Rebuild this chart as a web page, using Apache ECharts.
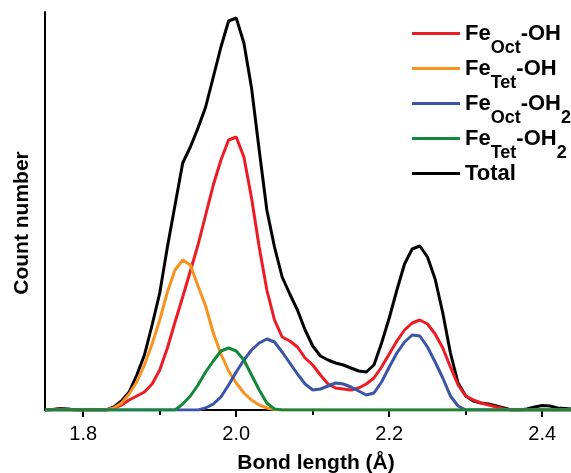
<!DOCTYPE html>
<html>
<head>
<meta charset="utf-8">
<script src="https://cdn.jsdelivr.net/npm/echarts@6/dist/echarts.min.js"></script>
<style>
html,body{margin:0;padding:0;background:#fff;}
#chart{width:571px;height:473px;}
</style>
</head>
<body>
<div id="chart"></div>
<script>
// Bond length grid (Å)
const bondLength = [
  1.75,1.76,1.77,1.78,1.79,1.80,1.81,1.82,1.83,1.84,1.85,1.86,1.87,1.88,1.89,
  1.90,1.91,1.92,1.93,1.94,1.95,1.96,1.97,1.98,1.99,
  2.00,2.01,2.02,2.03,2.04,2.05,2.06,2.07,2.08,2.09,
  2.10,2.11,2.12,2.13,2.14,2.15,2.16,2.17,2.18,2.19,
  2.20,2.21,2.22,2.23,2.24,2.25,2.26,2.27,2.28,2.29,
  2.30,2.31,2.32,2.33,2.34,2.35,2.36,2.37,2.38,2.39,
  2.40,2.41,2.42,2.43,2.44,2.45,2.46,2.47,2.48,2.49,2.50
];

const feOctOH = [
  0,0.3,1,0.5,0,0,0,0,0,2,5,10,14,18,26,
  40,62,88,113,139,165,195,225,250,270,
  273,253,212,163,120,90,73,69,63,52,
  45,35,26,22,21,20,22,26,32,43,
  56,69,80,87,90,86,76,62,43,25,
  14,10,7,5,3,1,0,0,0,0,
  0,0,0,0,0,0,0,0,0,0,0
];

const feTetOH = [
  0,0,0,0,0,0,0,0,0,2,7,16,28,45,66,
  90,118,140,150,145,124,104,77,56,39,
  27,17,10,5,2,0.5,0,0,0,0,
  0,0,0,0,0,0,0,0,0,0,
  0,0,0,0,0,0,0,0,0,0,
  0,0,0,0,0,0,0,0,0,0,
  0,0,0,0,0,0,0,0,0,0,0
];

const feOctOH2 = [
  0,0,0,0,0,0,0,0,0,0,0,0,0,0,0,
  0,0,0,0,0,0,2,6,13,25,
  38,50,60,67,71,68,58,47,36,26,
  20,21,24,27,26,23,19,15,17,28,
  43,57,68,75,74,63,48,32,14,4,
  0,0,0,0,0,0,0,0,0,0,
  0,0,0,0,0,0,0,0,0,0,0
];

const feTetOH2 = [
  0,0,0,0,0,0,0,0,0,0,0,0,0,0,0,
  0,0,0,6,14,25,38,49,59,62,
  59,50,35,20,7,1,0,0,0,0,
  0,0,0,0,0,0,0,0,0,0,
  0,0,0,0,0,0,0,0,0,0,
  0,0,0,0,0,0,0,0,0,0,
  0,0,0,0,0,0,0,0,0,0,0
];

const total = [
  0,0.5,1.5,1,0,0,0,0,0,3,9,18,35,55,85,
  117,163,205,247,263,282,303,333,363,389,
  392,367,322,260,200,163,133,116,100,80,
  64,54,50,47,45,42,39,38,45,67,
  92,120,146,161,164,153,131,97,57,27,
  14,9,7,6,4,2,0,0,1,3,
  4.5,4,2,1.5,1,0.5,0,0,0,0,0
];

const tickLabels = [1.8, 2.0, 2.2, 2.4];
const majorTicks = [1.8, 2.0, 2.2, 2.4];
const minorTicks = [1.9, 2.1, 2.3];

const seriesNames = ['FeOct-OH', 'FeTet-OH', 'FeOct-OH2', 'FeTet-OH2', 'Total'];
const seriesColors = ['#ed1c24', '#f7931e', '#3b55a6', '#13883a', '#000000'];
const legendRich = {
  'FeOct-OH': '{b|Fe}{s|Oct}{b|-OH}',
  'FeTet-OH': '{b|Fe}{s|Tet}{b|-OH}',
  'FeOct-OH2': '{b|Fe}{s|Oct}{b|-OH}{s|2}',
  'FeTet-OH2': '{b|Fe}{s|Tet}{b|-OH}{s|2}',
  'Total': '{b|Total}{s| }'
};

const FONT = 'Liberation Sans, Arial, sans-serif';
const pair = vals => bondLength.map((x, i) => [x, vals[i]]);

const chart = echarts.init(document.getElementById('chart'), null, {renderer: 'canvas'});

function lineSeries(name, vals, color, z) {
  return {
    name: name,
    type: 'line',
    xAxisIndex: 0,
    yAxisIndex: 0,
    data: pair(vals),
    symbol: 'none',
    smooth: false,
    z: z,
    lineStyle: {color: color, width: 3},
    itemStyle: {color: color}
  };
}

const legends = seriesNames.map((name, i) => ({
  orient: 'vertical',
  left: 407,
  top: 5 + i * 35,
  padding: 5,
  icon: 'rect',
  itemWidth: 48,
  itemHeight: 3,
  data: [name],
  formatter: n => legendRich[n],
  textStyle: {
    rich: {
      b: {fontSize: 22, fontWeight: 'bold', fontFamily: FONT, color: '#000', lineHeight: 47},
      s: {fontSize: 18, fontWeight: 'bold', fontFamily: FONT, color: '#000', lineHeight: 18, padding: [29, 0, 0, 0]}
    }
  }
}));

chart.setOption({
  animation: false,
  backgroundColor: '#fff',
  grid: {left: 45, right: 0, top: 12, bottom: 63, containLabel: false, outerBoundsMode: 'none'},
  legend: legends,
  xAxis: [
    {
      type: 'value', min: 1.75, max: 2.4376, position: 'bottom',
      axisLine: {onZero: false, lineStyle: {color: '#000', width: 2}},
      axisTick: {show: true, customValues: majorTicks, length: 7, lineStyle: {color: '#000', width: 2}},
      axisLabel: {customValues: tickLabels, fontSize: 20, fontFamily: FONT, color: '#000', margin: 14,
                  formatter: v => Number(v).toFixed(1)},
      splitLine: {show: false},
      name: 'Bond length (Å)', nameLocation: 'middle', nameGap: 43,
      nameTextStyle: {fontSize: 21, fontWeight: 'bold', fontFamily: FONT, color: '#000', padding: [0, 0, 0, 16]}
    },
    {
      type: 'value', min: 1.75, max: 2.4376, position: 'bottom', offset: 0,
      axisLine: {show: false, onZero: false},
      axisTick: {show: true, customValues: minorTicks, length: 5, lineStyle: {color: '#000', width: 2}},
      axisLabel: {show: false},
      splitLine: {show: false}
    }
  ],
  yAxis: {
    type: 'value', min: 0, max: 398,
    axisLine: {show: true, lineStyle: {color: '#000', width: 2}},
    axisTick: {show: false},
    axisLabel: {show: false},
    splitLine: {show: false},
    name: 'Count number', nameLocation: 'middle', nameGap: 12,
    nameTextStyle: {fontSize: 21, fontWeight: 'bold', fontFamily: FONT, color: '#000', padding: [0, 24, 0, 0]}
  },
  series: [
    lineSeries('Total', total, seriesColors[4], 2),
    lineSeries('FeOct-OH', feOctOH, seriesColors[0], 3),
    lineSeries('FeTet-OH', feTetOH, seriesColors[1], 4),
    lineSeries('FeOct-OH2', feOctOH2, seriesColors[2], 5),
    lineSeries('FeTet-OH2', feTetOH2, seriesColors[3], 6)
  ]
});
</script>
</body>
</html>
